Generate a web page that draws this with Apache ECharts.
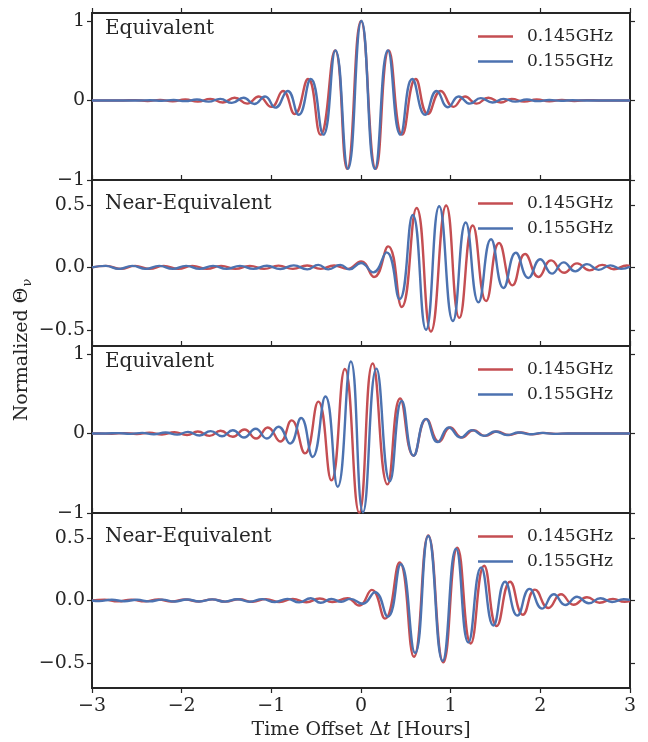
<!DOCTYPE html>
<html>
<head>
<meta charset="utf-8">
<title>Normalized Theta vs time offset</title>
<script src="https://cdn.jsdelivr.net/npm/echarts@6/dist/echarts.min.js"></script>
<style>
  html, body { margin: 0; padding: 0; background: #fff; }
  #chart { width: 648px; height: 742px; }
</style>
</head>
<body>
<div id="chart"></div>
<script>
// values: [time offset (h), normalized theta], extrema of each wave
const p1Red = [[-3, 0], [-2.65, 0], [-2.52, 0.004], [-2.38, -0.006], [-2.24, 0.008], [-2.1, -0.01], [-1.96, 0.012],
  [-1.82, -0.015], [-1.68, 0.02], [-1.54, -0.025], [-1.41, 0.035], [-1.27, -0.04], [-1.14, 0.05], [-1.0, -0.08],
  [-0.87, 0.12], [-0.74, -0.17], [-0.59, 0.27], [-0.452, -0.43], [-0.29, 0.63], [-0.155, -0.86], [0, 1.0],
  [0.165, -0.86], [0.31, 0.63], [0.46, -0.43], [0.61, 0.27], [0.745, -0.17], [0.89, 0.12], [1.03, -0.08],
  [1.16, 0.05], [1.29, -0.04], [1.42, 0.035], [1.56, -0.025], [1.68, 0.02], [1.82, -0.015], [1.96, 0.012],
  [2.1, -0.01], [2.24, 0.008], [2.38, -0.006], [2.52, 0.004], [2.65, 0], [3, 0]]
const p1Blue = [[-3, 0], [-2.48, 0], [-2.35, 0.003], [-2.22, -0.004], [-2.09, 0.006], [-1.96, -0.008], [-1.83, 0.012],
  [-1.7, -0.015], [-1.57, 0.02], [-1.44, -0.03], [-1.31, 0.035], [-1.19, -0.045], [-1.07, 0.05], [-0.955, -0.09],
  [-0.818, 0.12], [-0.695, -0.18], [-0.56, 0.27], [-0.42, -0.43], [-0.285, 0.63], [-0.145, -0.86], [0.005, 1.0],
  [0.155, -0.86], [0.3, 0.63], [0.44, -0.43], [0.572, 0.27], [0.715, -0.18], [0.844, 0.12], [0.97, -0.085],
  [1.09, 0.05], [1.215, -0.04], [1.335, 0.03], [1.466, -0.025], [1.59, 0.02], [1.72, -0.015], [1.85, 0.012],
  [1.97, -0.008], [2.1, 0.006], [2.23, -0.004], [2.36, 0.003], [2.49, 0], [3, 0]]

const p2Red = [[-3, 0], [-2.84, 0.012], [-2.68, -0.012], [-2.52, 0.012], [-2.36, -0.012], [-2.2, 0.012],
  [-2.04, -0.012], [-1.88, 0.012], [-1.72, -0.012], [-1.56, 0.012], [-1.4, -0.012], [-1.24, 0.012],
  [-1.08, -0.012], [-0.92, 0.014], [-0.76, -0.012], [-0.6, 0.015], [-0.45, -0.012], [-0.3, 0.015],
  [-0.15, -0.012], [0, 0.048], [0.145, -0.077], [0.303, 0.168], [0.454, -0.317], [0.62, 0.476], [0.78, -0.515],
  [0.95, 0.496], [1.097, -0.405], [1.246, 0.336], [1.395, -0.27], [1.54, 0.195], [1.69, -0.144], [1.83, 0.107],
  [1.98, -0.077], [2.12, 0.056], [2.265, -0.043], [2.41, 0.032], [2.55, -0.024], [2.69, 0.02], [2.82, -0.015],
  [2.965, 0.015], [3, 0.012]]
const p2Blue = [[-3, 0], [-2.85, 0.012], [-2.7, -0.012], [-2.55, 0.012], [-2.4, -0.012], [-2.25, 0.012],
  [-2.1, -0.012], [-1.95, 0.012], [-1.8, -0.012], [-1.65, 0.012], [-1.5, -0.012], [-1.35, 0.012], [-1.2, -0.012],
  [-1.05, 0.013], [-0.9, -0.013], [-0.75, 0.016], [-0.6, -0.016], [-0.476, 0.02], [-0.365, -0.016], [-0.23, 0.02],
  [-0.13, -0.016], [0, 0.035], [0.137, -0.04], [0.285, 0.12], [0.43, -0.255], [0.577, 0.42], [0.725, -0.5],
  [0.872, 0.49], [1.025, -0.43], [1.168, 0.36], [1.31, -0.28], [1.45, 0.225], [1.59, -0.165], [1.727, 0.117],
  [1.867, -0.085], [2.0, 0.065], [2.13, -0.05], [2.26, 0.04], [2.39, -0.032], [2.52, 0.026], [2.65, -0.02],
  [2.78, 0.016], [2.9, -0.012], [3, 0.005]]

const p3Red = [[-3, 0], [-2.92, 0], [-2.78, -0.003], [-2.64, 0.005], [-2.5, -0.007], [-2.36, 0.009], [-2.22, -0.012],
  [-2.08, 0.015], [-1.94, -0.02], [-1.82, 0.025], [-1.69, -0.03], [-1.566, 0.034], [-1.43, -0.042], [-1.3, 0.05],
  [-1.17, -0.064], [-1.04, 0.076], [-0.9, -0.1], [-0.774, 0.165], [-0.625, -0.25], [-0.476, 0.4], [-0.33, -0.59],
  [-0.18, 0.81], [-0.02, -0.995], [0.13, 0.88], [0.295, -0.64], [0.437, 0.44], [0.586, -0.28], [0.73, 0.18],
  [0.87, -0.105], [0.995, 0.075], [1.125, -0.05], [1.255, 0.04], [1.385, -0.03], [1.515, 0.024], [1.65, -0.02],
  [1.78, 0.013], [1.91, -0.01], [2.04, 0.007], [2.17, -0.005], [2.32, 0], [3, 0]]
const p3Blue = [[-3, 0], [-2.85, 0], [-2.7, 0.004], [-2.57, -0.005], [-2.44, 0.007], [-2.31, -0.009], [-2.18, 0.012],
  [-2.05, -0.015], [-1.93, 0.02], [-1.8, -0.025], [-1.677, 0.03], [-1.55, -0.034], [-1.43, 0.04], [-1.305, -0.05],
  [-1.175, 0.06], [-1.05, -0.064], [-0.92, 0.085], [-0.79, -0.127], [-0.668, 0.195], [-0.54, -0.295],
  [-0.397, 0.465], [-0.26, -0.67], [-0.113, 0.905], [0.022, -0.99], [0.172, 0.815], [0.322, -0.6], [0.455, 0.41],
  [0.587, -0.28], [0.725, 0.183], [0.855, -0.108], [0.98, 0.076], [1.11, -0.05], [1.24, 0.042], [1.37, -0.03],
  [1.5, 0.025], [1.63, -0.02], [1.76, 0.013], [1.89, -0.01], [2.02, 0.007], [2.15, -0.005], [2.3, 0], [3, 0]]

const p4Red = [[-3, 0], [-2.86, 0.007], [-2.71, -0.007], [-2.56, 0.007], [-2.41, -0.007], [-2.26, 0.008],
  [-2.11, -0.008], [-1.96, 0.008], [-1.81, -0.008], [-1.66, 0.009], [-1.51, -0.009], [-1.36, 0.01], [-1.21, -0.01],
  [-1.06, 0.011], [-0.91, -0.012], [-0.76, 0.013], [-0.61, -0.014], [-0.46, 0.016], [-0.32, -0.012], [-0.15, 0.018],
  [-0.02, -0.04], [0.12, 0.085], [0.268, -0.145], [0.43, 0.304], [0.59, -0.45], [0.75, 0.52], [0.918, -0.495],
  [1.075, 0.423], [1.224, -0.344], [1.373, 0.278], [1.514, -0.204], [1.663, 0.15], [1.805, -0.114], [1.94, 0.087],
  [2.09, -0.06], [2.23, 0.05], [2.37, -0.034], [2.52, 0.026], [2.66, -0.018], [2.81, 0.013], [2.94, -0.01],
  [3, -0.005]]
const p4Blue = [[-3, 0], [-2.92, -0.005], [-2.78, 0.006], [-2.64, -0.006], [-2.5, 0.006], [-2.36, -0.007],
  [-2.22, 0.007], [-2.08, -0.008], [-1.94, 0.008], [-1.8, -0.008], [-1.66, 0.009], [-1.52, -0.009], [-1.38, 0.01],
  [-1.24, -0.01], [-1.1, 0.011], [-0.96, -0.012], [-0.82, 0.013], [-0.69, -0.015], [-0.56, 0.018], [-0.45, -0.018],
  [-0.33, 0.012], [-0.22, -0.01], [-0.12, 0.013], [0.02, -0.026], [0.156, 0.066], [0.298, -0.13], [0.443, 0.29],
  [0.603, -0.42], [0.75, 0.516], [0.91, -0.484], [1.06, 0.415], [1.197, -0.336], [1.34, 0.265], [1.477, -0.2],
  [1.607, 0.15], [1.744, -0.12], [1.88, 0.093], [2.02, -0.065], [2.15, 0.05], [2.28, -0.036], [2.41, 0.03],
  [2.54, -0.022], [2.67, 0.018], [2.8, -0.012], [2.93, 0.01], [3, 0.005]]

const panelTitles = ['Equivalent', 'Near-Equivalent', 'Equivalent', 'Near-Equivalent']
const seriesNames = ['0.145GHz', '0.155GHz']
const xTicks = [-3, -2, -1, 0, 1, 2, 3]
const wideTicks = [-1, 0, 1]
const narrowTicks = [-0.5, 0, 0.5]

const RED = '#c44e52'
const BLUE = '#4c72b0'
const INK = '#262626'
const FONT = 'DejaVu Serif'

const panels = [
  { red: p1Red, blue: p1Blue, yMin: -1, yMax: 1.1, ticks: wideTicks, top: 13, height: 167, titleY: 29 },
  { red: p2Red, blue: p2Blue, yMin: -0.63, yMax: 0.7, ticks: narrowTicks, top: 180, height: 166, titleY: 204 },
  { red: p3Red, blue: p3Blue, yMin: -1, yMax: 1.1, ticks: wideTicks, top: 346, height: 167, titleY: 362 },
  { red: p4Red, blue: p4Blue, yMin: -0.7, yMax: 0.7, ticks: narrowTicks, top: 513, height: 175, titleY: 537 }
]

function minus(v) {
  return String(v).replace('-', '\u2212')
}

function tickLabel(ticks) {
  return function(v) {
    if (ticks === wideTicks) return minus(Math.round(v))
    return minus(v.toFixed(1))
  }
}

const tickStyle = { show: true, inside: false, length: 5, lineStyle: { color: INK, width: 1.2 } }
const noLine = { show: false, onZero: false }

const grid = []
const xAxis = []
const yAxis = []
const series = []
const legend = []
const graphic = []

panels.forEach((p, i) => {
  grid.push({
    left: 92, right: 18, top: p.top, height: p.height,
    show: true, borderWidth: 2, borderColor: INK, backgroundColor: 'transparent'
  })
  xAxis.push({
    type: 'value', gridIndex: i, position: 'top', min: -3, max: 3, interval: 1,
    axisLine: noLine, axisTick: tickStyle, axisLabel: { show: false }, splitLine: { show: false }
  })
  yAxis.push({
    type: 'value', gridIndex: i, position: 'left', min: p.yMin, max: p.yMax,
    axisLine: noLine,
    axisTick: Object.assign({ customValues: p.ticks }, tickStyle),
    axisLabel: {
      customValues: p.ticks, margin: 7, formatter: tickLabel(p.ticks),
      fontFamily: FONT, fontSize: 19, color: INK
    },
    splitLine: { show: false }
  })
  series.push({
    type: 'line', name: seriesNames[0], xAxisIndex: i, yAxisIndex: i, data: p.red,
    smooth: 0.5, symbol: 'none', lineStyle: { color: RED, width: 2.4 }, itemStyle: { color: RED }
  })
  series.push({
    type: 'line', name: seriesNames[1], xAxisIndex: i, yAxisIndex: i, data: p.blue,
    smooth: 0.5, symbol: 'none', lineStyle: { color: BLUE, width: 2.4 }, itemStyle: { color: BLUE }
  })
  legend.push({
    data: seriesNames, orient: 'vertical', left: 478, top: p.top + 15, padding: 0, selectedMode: false,
    icon: 'rect', itemWidth: 35, itemHeight: 2.4, itemGap: 8,
    textStyle: { fontFamily: FONT, fontSize: 17, color: INK, lineHeight: 17, padding: [0, 0, 0, 9] }
  })
  graphic.push({
    type: 'text', x: 105, y: p.titleY, silent: true,
    style: { text: panelTitles[i], font: '20px "DejaVu Serif"', fill: INK, textAlign: 'left', textVerticalAlign: 'middle' }
  })
})

// right-hand ticks of every panel
panels.forEach((p, i) => {
  yAxis.push({
    type: 'value', gridIndex: i, position: 'right', min: p.yMin, max: p.yMax,
    axisLine: noLine,
    axisTick: Object.assign({ customValues: p.ticks }, tickStyle),
    axisLabel: { show: false }, splitLine: { show: false }
  })
})

// shared time axis under the last panel
xAxis.push({
  type: 'value', gridIndex: 3, position: 'bottom', min: -3, max: 3, interval: 1,
  axisLine: noLine, axisTick: tickStyle, splitLine: { show: false },
  axisLabel: { margin: 9, fontFamily: FONT, fontSize: 19, color: INK, formatter: v => minus(v) },
  name: '{a|Time Offset \u0394}{b|t}{a| [Hours]}',
  nameLocation: 'middle', nameGap: 33,
  nameTextStyle: {
    rich: {
      a: { fontFamily: FONT, fontSize: 19, color: INK },
      b: { fontFamily: FONT, fontSize: 19, color: INK, fontStyle: 'italic' }
    }
  }
})

// y title with subscript nu, rotated
const ctx = document.createElement('canvas').getContext('2d')
ctx.font = '19px "DejaVu Serif"'
const mainW = ctx.measureText('Normalized \u0398').width
ctx.font = '13px "DejaVu Serif"'
const subW = ctx.measureText('\u03bd').width
const startX = -(mainW + subW + 1) / 2
graphic.push({
  type: 'group', x: 22, y: 350, rotation: Math.PI / 2, silent: true,
  children: [
    { type: 'text', x: startX, y: 0,
      style: { text: 'Normalized \u0398', font: '19px "DejaVu Serif"', fill: INK, textAlign: 'left', textVerticalAlign: 'middle' } },
    { type: 'text', x: startX + mainW + 1, y: 6,
      style: { text: '\u03bd', font: '13px "DejaVu Serif"', fill: INK, textAlign: 'left', textVerticalAlign: 'middle' } }
  ]
})

const chart = echarts.init(document.getElementById('chart'), null, { renderer: 'canvas' })
chart.setOption({
  backgroundColor: '#fff',
  animation: false,
  grid: grid,
  xAxis: xAxis,
  yAxis: yAxis,
  legend: legend,
  series: series,
  graphic: graphic
})
</script>
</body>
</html>
